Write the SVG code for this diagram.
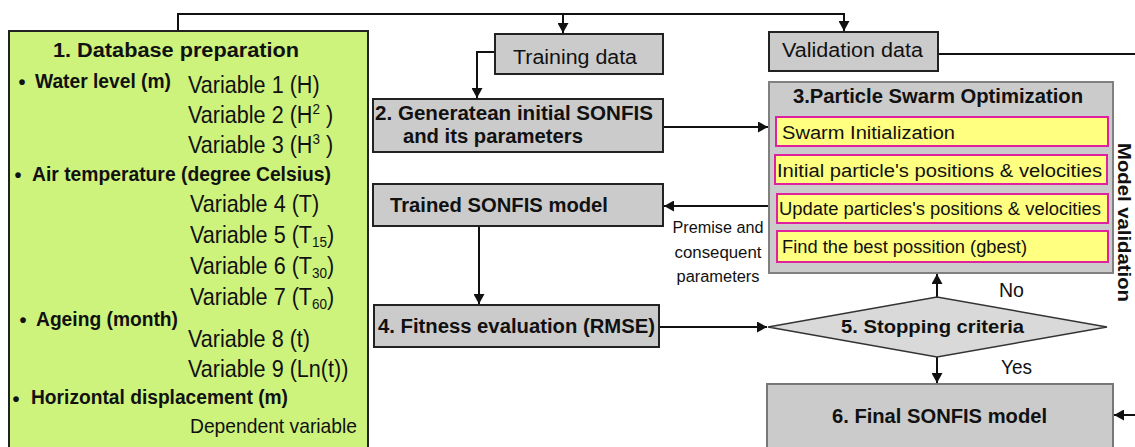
<svg xmlns="http://www.w3.org/2000/svg" width="1135" height="447" viewBox="0 0 1135 447">
<style>
text{font-family:"Liberation Sans",Arial,sans-serif;fill:#111}
.b{font-weight:bold}
.gray{fill:#cbcbcb;stroke:#222;stroke-width:2}
.yel{fill:#ffff80;stroke:#e0209f;stroke-width:2}
.ln{fill:none;stroke:#111;stroke-width:2}
</style>
<defs>
<marker id="ah" markerUnits="userSpaceOnUse" markerWidth="11" markerHeight="11" refX="10" refY="5.5" orient="auto">
<path d="M0,0 L10,5.5 L0,11 z" fill="#111"/>
</marker>
</defs>
<rect width="1135" height="447" fill="#fff"/>

<g id="connectors">
<path class="ln" d="M178,31 V14 H844 V31" marker-end="url(#ah)"/>
<path class="ln" d="M563,14 V33" marker-end="url(#ah)"/>
<path class="ln" d="M495,52 H477 V98" marker-end="url(#ah)"/>
<path class="ln" d="M663,127 H768" marker-end="url(#ah)"/>
<path class="ln" d="M769,206 H664" marker-end="url(#ah)"/>
<path class="ln" d="M479,226 V304" marker-end="url(#ah)"/>
<path class="ln" d="M659,327 H767" marker-end="url(#ah)"/>
<path class="ln" d="M937,297 V274" marker-end="url(#ah)"/>
<path class="ln" d="M937,357 V383" marker-end="url(#ah)"/>
<path class="ln" d="M938,54 H1135"/>
<path class="ln" d="M1135,415 H1114" marker-end="url(#ah)"/>
<text x="718" y="233" font-size="16" text-anchor="middle" textLength="91" lengthAdjust="spacingAndGlyphs">Premise and</text>
<text x="718" y="258" font-size="16" text-anchor="middle" textLength="87" lengthAdjust="spacingAndGlyphs">consequent</text>
<text x="718" y="282" font-size="16" text-anchor="middle" textLength="83" lengthAdjust="spacingAndGlyphs">parameters</text>
<text x="999" y="297" font-size="20" textLength="25" lengthAdjust="spacingAndGlyphs">No</text>
<text x="1001" y="374" font-size="20" textLength="31" lengthAdjust="spacingAndGlyphs">Yes</text>
<text class="b" transform="translate(1118,143) rotate(90)" font-size="19" textLength="159" lengthAdjust="spacingAndGlyphs">Model validation</text>
</g>

<g id="database">
<rect x="9" y="31" width="359" height="430" fill="#cdf37d" stroke="#222" stroke-width="2"/>
<text class="b" x="53" y="57" font-size="20" textLength="246" lengthAdjust="spacingAndGlyphs">1. Database preparation</text>
<text class="b" x="22" y="89" font-size="20" text-anchor="middle">•</text>
<text class="b" x="35" y="88" font-size="20" textLength="136" lengthAdjust="spacingAndGlyphs">Water level (m)</text>
<text class="b" x="18" y="182" font-size="20" text-anchor="middle">•</text>
<text class="b" x="32" y="181" font-size="20" textLength="299" lengthAdjust="spacingAndGlyphs">Air temperature (degree Celsius)</text>
<text class="b" x="23" y="327" font-size="20" text-anchor="middle">•</text>
<text class="b" x="36" y="326" font-size="20" textLength="142" lengthAdjust="spacingAndGlyphs">Ageing (month)</text>
<text class="b" x="16" y="406" font-size="20" text-anchor="middle">•</text>
<text class="b" x="31" y="404" font-size="20" textLength="257" lengthAdjust="spacingAndGlyphs">Horizontal displacement (m)</text>
<g font-size="24">
<text transform="translate(188,93) scale(0.9,1)">Variable 1 (H)</text>
<text transform="translate(188,123) scale(0.9,1)">Variable 2 (H<tspan font-size="15" dy="-9">2</tspan><tspan dy="9"> )</tspan></text>
<text transform="translate(188,153) scale(0.9,1)">Variable 3 (H<tspan font-size="15" dy="-9">3</tspan><tspan dy="9"> )</tspan></text>
<text transform="translate(190,212) scale(0.9,1)">Variable 4 (T)</text>
<text transform="translate(190,243) scale(0.9,1)">Variable 5 (T<tspan font-size="15" dy="4">15</tspan><tspan dy="-4">)</tspan></text>
<text transform="translate(190,274) scale(0.9,1)">Variable 6 (T<tspan font-size="15" dy="4">30</tspan><tspan dy="-4">)</tspan></text>
<text transform="translate(190,305) scale(0.9,1)">Variable 7 (T<tspan font-size="15" dy="4">60</tspan><tspan dy="-4">)</tspan></text>
<text transform="translate(188,347) scale(0.9,1)">Variable 8 (t)</text>
<text transform="translate(188,377) scale(0.9,1)">Variable 9 (Ln(t))</text>
</g>
<text x="190" y="433" font-size="21" textLength="167" lengthAdjust="spacingAndGlyphs">Dependent variable</text>
</g>

<g id="training">
<rect class="gray" x="495" y="34" width="168" height="40"/>
<text x="513" y="64" font-size="20" textLength="124" lengthAdjust="spacingAndGlyphs">Training data</text>
</g>

<g id="validation">
<rect class="gray" x="769" y="32" width="169" height="39"/>
<text x="782" y="57" font-size="20" textLength="141" lengthAdjust="spacingAndGlyphs">Validation data</text>
</g>

<g id="generate">
<rect class="gray" x="373" y="99" width="290" height="53"/>
<text class="b" x="375" y="120" font-size="20" textLength="278" lengthAdjust="spacingAndGlyphs">2. Generatean initial SONFIS</text>
<text class="b" x="403" y="143" font-size="20" textLength="180" lengthAdjust="spacingAndGlyphs">and its parameters</text>
</g>

<g id="trained">
<rect class="gray" x="373" y="184" width="290" height="42"/>
<text class="b" x="390" y="212" font-size="20" textLength="218" lengthAdjust="spacingAndGlyphs">Trained SONFIS model</text>
</g>

<g id="fitness">
<rect class="gray" x="374" y="305" width="285" height="42"/>
<text class="b" x="378" y="333" font-size="20" textLength="277" lengthAdjust="spacingAndGlyphs">4. Fitness evaluation (RMSE)</text>
</g>

<g id="pso">
<rect x="769" y="82" width="344" height="191" fill="#cbcbcb" stroke="#808080" stroke-width="2"/>
<text class="b" x="793" y="103" font-size="20" textLength="290" lengthAdjust="spacingAndGlyphs">3.Particle Swarm Optimization</text>
<rect class="yel" x="776" y="117" width="332" height="29"/>
<text x="782" y="139" font-size="18" textLength="173" lengthAdjust="spacingAndGlyphs">Swarm Initialization</text>
<rect class="yel" x="775" y="155" width="332" height="29"/>
<text x="777" y="177" font-size="18" textLength="325" lengthAdjust="spacingAndGlyphs">Initial particle's positions &amp; velocities</text>
<rect class="yel" x="777" y="194" width="331" height="29"/>
<text x="779" y="215" font-size="18" textLength="322" lengthAdjust="spacingAndGlyphs">Update particles's positions &amp; velocities</text>
<rect class="yel" x="777" y="231" width="331" height="31"/>
<text x="782" y="253" font-size="18" textLength="245" lengthAdjust="spacingAndGlyphs">Find the best possition (gbest)</text>
</g>

<g id="stopping">
<polygon points="768,327 937,297 1107,327 937,357" fill="#d9d9d9" stroke="#333" stroke-width="1.5"/>
<text class="b" x="841" y="333" font-size="19" textLength="183" lengthAdjust="spacingAndGlyphs">5. Stopping criteria</text>
</g>

<g id="final">
<rect x="767" y="384" width="346" height="80" fill="#cbcbcb" stroke="#777" stroke-width="2"/>
<text class="b" x="832" y="423" font-size="20" textLength="215" lengthAdjust="spacingAndGlyphs">6. Final SONFIS model</text>
</g>
</svg>
